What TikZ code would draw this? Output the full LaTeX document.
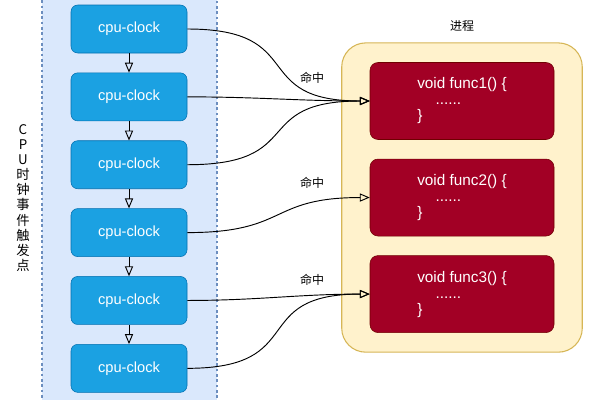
\documentclass[tikz,border=0pt]{standalone}
\usepackage{fontspec}
\setmainfont{Liberation Sans}
\newfontfamily\cjk{Noto Sans CJK SC}
\usetikzlibrary{arrows,positioning,fit,backgrounds}
\definecolor{panelblue}{HTML}{DAE8FC}
\definecolor{panelline}{HTML}{6C8EBF}
\definecolor{clkfill}{HTML}{1BA1E2}
\definecolor{clkline}{HTML}{006EAF}
\definecolor{procfill}{HTML}{FFF2CC}
\definecolor{procline}{HTML}{D6B656}
\definecolor{funcfill}{HTML}{A20025}
\definecolor{funcline}{HTML}{6F0000}
\tikzstyle{clock}=[
	rectangle,
	rounded corners=5pt,
	draw=clkline,
	fill=clkfill,
	text=white,
	minimum width=87pt,
	minimum height=36pt,
	font=\fontsize{11}{12}\selectfont,
	node distance=14.5pt
]
\tikzstyle{func}=[
	rectangle,
	rounded corners=6pt,
	draw=funcline,
	fill=funcfill,
	text=white,
	align=left,
	minimum width=138pt,
	minimum height=57.75pt,
	font=\fontsize{11.5}{12}\selectfont,
	node distance=14.25pt
]
\tikzstyle{process}=[
	rectangle,
	rounded corners=18pt,
	draw=procline,
	fill=procfill,
	thick,
	inner xsep=21pt,
	inner ysep=14.5pt
]
\tikzstyle{clocktick}=[
	<-,
	>=open triangle 45,
	line width=0.7pt
]
\tikzstyle{hit}=[
	->,
	>=open triangle 45,
	line width=0.7pt
]
\tikzstyle{hitlabel}=[font=\cjk\fontsize{9}{10}\selectfont]

\begin{document}
\begin{tikzpicture}[x=0.75pt,y=-0.75pt]
\useasboundingbox (0,0) rectangle (600,400);
\clip (0,0) rectangle (600,400);
% trigger panel
\draw [fill=panelblue, draw=panelline, thick, dash pattern=on 2pt off 2pt] (42,-5) rectangle (217,405);
\node [align=center, font=\cjk\fontsize{10}{11.3}\selectfont] (cpulabel) at (23,198)
	{C\\P\\U\\时\\钟\\事\\件\\触\\发\\点};

\node [clock] (clk1) at (129,29) {cpu-clock};
\node [clock] (clk2)[below=of clk1] {cpu-clock}
	edge [clocktick] (clk1);
\node [clock] (clk3)[below=of clk2] {cpu-clock}
	edge [clocktick] (clk2);
\node [clock] (clk4)[below=of clk3] {cpu-clock}
	edge [clocktick] (clk3);
\node [clock] (clk5)[below=of clk4] {cpu-clock}
	edge [clocktick] (clk4);
\node [clock] (clk6)[below=of clk5] {cpu-clock}
	edge [clocktick] (clk5);

% process
\node [func] (func1) at (462,101) {void func1() \{\\\hspace{1.2em}......\\\}};
\node [func] (func2)[below=of func1] {void func2() \{\\\hspace{1.2em}......\\\}};
\node [func] (func3)[below=of func2] {void func3() \{\\\hspace{1.2em}......\\\}};
\begin{scope}[on background layer]
\node [process, fit=(func1)(func3)] (proc) {};
\end{scope}
\node [hitlabel, above=5pt of proc] (proclabel) {进程};

\draw [hit] (clk1.east) to[out=0, in=180, looseness=1.6] (func1.west);
\draw [hit] (clk2.east) to[out=0, in=180] (func1.west);
\draw [hit] (clk3.east) to[out=0, in=180, looseness=1.6] (func1.west);
\draw [hit] (clk4.east) to[out=0, in=180, looseness=1.4] (func2.west);
\draw [hit] (clk5.east) to[out=0, in=180] (func3.west);
\draw [hit] (clk6.east) to[out=0, in=180, looseness=1.6] (func3.west);

\node [hitlabel] (hit1) at (312,78) {命中};
\node [hitlabel] (hit2) at (312,183) {命中};
\node [hitlabel] (hit3) at (312,280) {命中};
\end{tikzpicture}
\end{document}
